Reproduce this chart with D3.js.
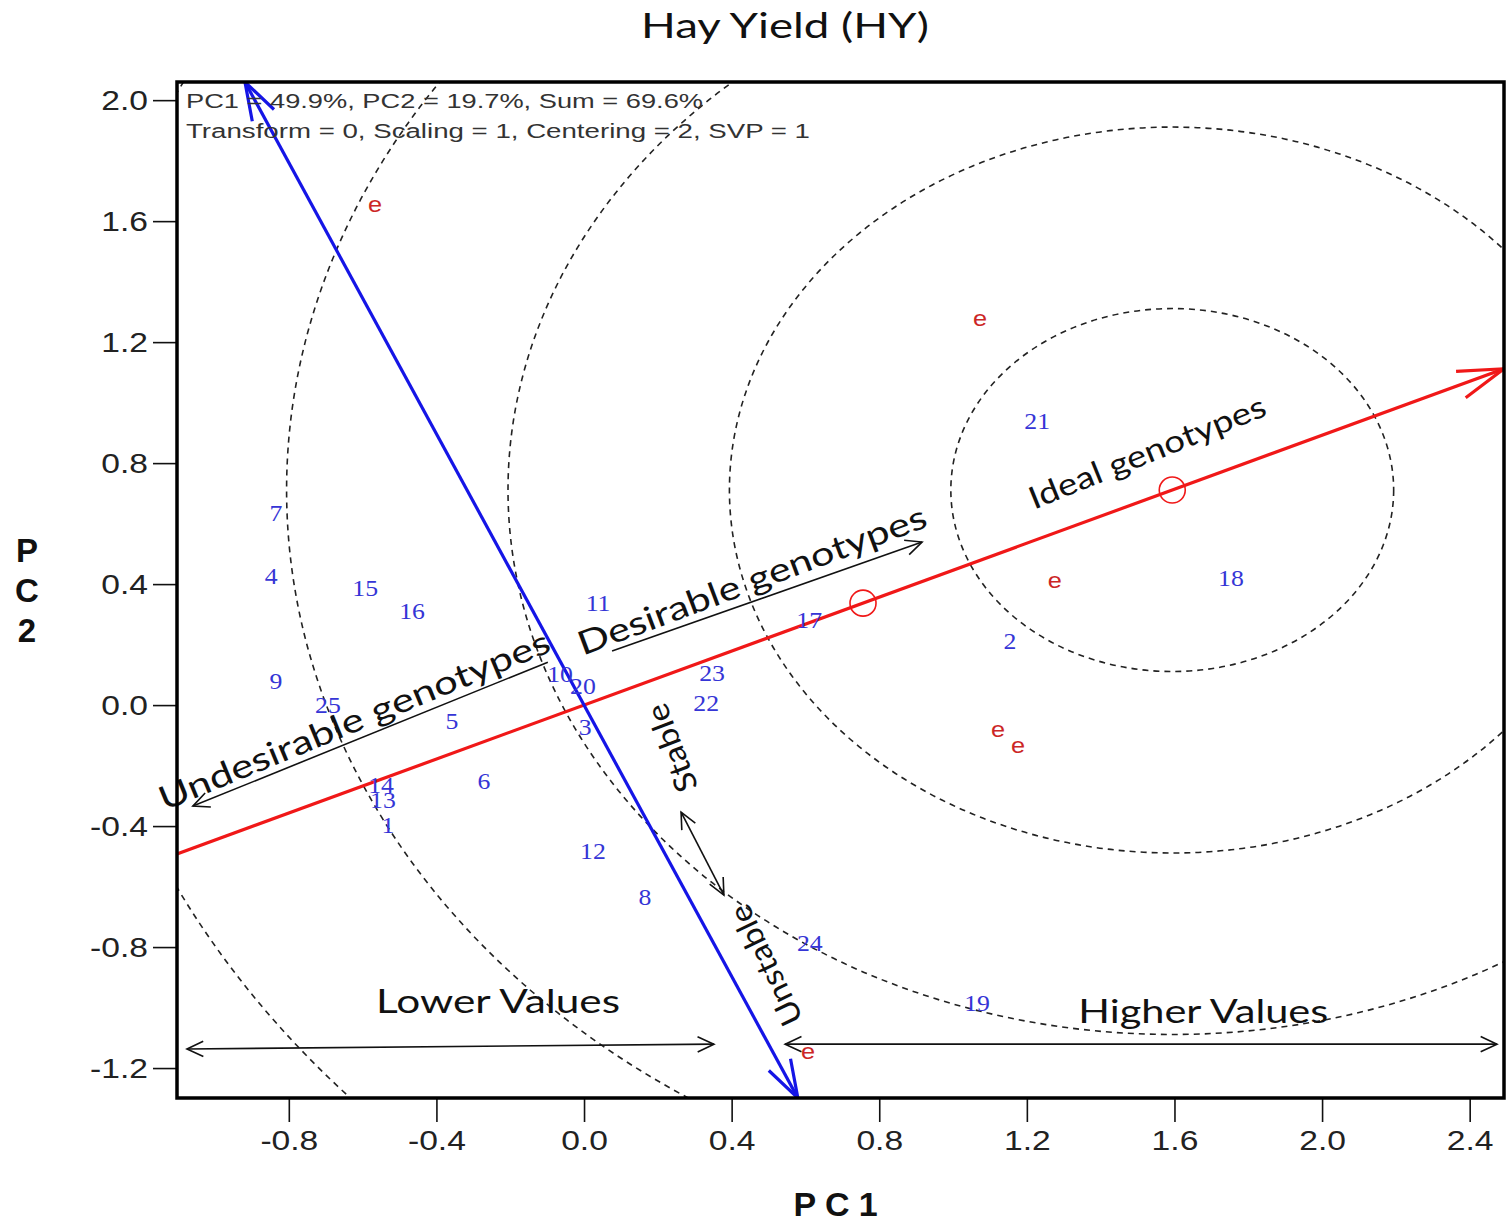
<!DOCTYPE html>
<html><head><meta charset="utf-8">
<script src="https://cdn.jsdelivr.net/npm/d3@7"></script>
<style>body{margin:0;background:#fff}</style>
</head><body>
<svg id="c" width="1506" height="1222" xmlns="http://www.w3.org/2000/svg"></svg>
<script>
// ---------- data ----------
const genotypes = ["1","2","3","4","5","6","7","8","9","10","11","12","13","14","15","16","17","18","19","20","21","22","23","24","25"];
const genoPC1 = [-0.531, 1.154, 0.003, -0.848, -0.358, -0.271, -0.835, 0.165, -0.835, -0.065, 0.038, 0.024, -0.545, -0.550, -0.593, -0.466, 0.610, 1.753, 1.065, -0.003, 1.228, 0.331, 0.347, 0.612, -0.694];
const genoPC2 = [-0.397, 0.212, -0.073, 0.426, -0.053, -0.251, 0.635, -0.635, 0.079, 0.102, 0.337, -0.483, -0.314, -0.264, 0.387, 0.311, 0.281, 0.420, -0.985, 0.063, 0.939, 0.007, 0.106, -0.787, 0.000];
const envLabels = ["e","e","e","e","e","e"];
const envPC1 = [-0.566, 1.073, 1.276, 1.122, 1.176, 0.607];
const envPC2 = [1.656, 1.279, 0.413, -0.079, -0.132, -1.144];
const xTicks = [-0.8, -0.4, 0.0, 0.4, 0.8, 1.2, 1.6, 2.0, 2.4];
const yTicks = [-1.2, -0.8, -0.4, 0.0, 0.4, 0.8, 1.2, 1.6, 2.0];
const xDomain = [-1.103, 2.493];
const yDomain = [-1.299, 2.06];
const idealPoint = [1.594, 0.711];
const avgEnvPoint = [0.756, 0.337];
const circleRadii = [0.6, 1.2, 1.8, 2.4, 3.0];
const infoLines = ["PC1 = 49.9%, PC2 = 19.7%, Sum = 69.6%", "Transform = 0, Scaling = 1, Centering = 2, SVP = 1"];

// ---------- layout ----------
const svg = d3.select("#c");
const x = d3.scaleLinear().domain(xDomain).range([177, 1504]);
const y = d3.scaleLinear().domain(yDomain).range([1098, 82]);
const X0 = x.range()[0], X1 = x.range()[1], Y0 = y.range()[1], Y1 = y.range()[0];

function stretch(sel, f) {
  sel.each(function () {
    const w = this.getComputedTextLength();
    this.setAttribute("textLength", w * f);
    this.setAttribute("lengthAdjust", "spacingAndGlyphs");
  });
}
function fitTo(sel, len) {
  sel.attr("textLength", len).attr("lengthAdjust", "spacingAndGlyphs");
}
function barbs(x1, y1, x2, y2, len, angDeg) {
  const a = Math.atan2(y2 - y1, x2 - x1), t = angDeg * Math.PI / 180;
  const p1 = [x2 - len * Math.cos(a - t), y2 - len * Math.sin(a - t)];
  const p2 = [x2 - len * Math.cos(a + t), y2 - len * Math.sin(a + t)];
  return `M${p1[0]},${p1[1]}L${x2},${y2}L${p2[0]},${p2[1]}`;
}

svg.append("defs").append("clipPath").attr("id", "plotclip")
  .append("rect").attr("x", X0).attr("y", Y0).attr("width", X1 - X0).attr("height", Y1 - Y0);

const plot = svg.append("g").attr("clip-path", "url(#plotclip)");

// concentric circles around the ideal genotype
plot.selectAll("ellipse.ring").data(circleRadii).join("ellipse")
  .attr("class", "ring")
  .attr("cx", x(idealPoint[0])).attr("cy", y(idealPoint[1]))
  .attr("rx", r => x(r) - x(0)).attr("ry", r => y(0) - y(r))
  .attr("fill", "none").attr("stroke", "#222").attr("stroke-width", 1.6)
  .attr("stroke-dasharray", "6,5");

// AEC lines
const slope = idealPoint[1] / idealPoint[0];
const redA = [xDomain[0], slope * xDomain[0]], redB = [xDomain[1], slope * xDomain[1]];
const blueA = [-yDomain[1] * slope, yDomain[1]], blueB = [-yDomain[0] * slope, yDomain[0]];

plot.append("line").attr("x1", x(redA[0])).attr("y1", y(redA[1])).attr("x2", x(redB[0])).attr("y2", y(redB[1]))
  .attr("stroke", "#f01818").attr("stroke-width", 3.2);
plot.append("path").attr("d", barbs(x(redA[0]), y(redA[1]), x(redB[0]), y(redB[1]), 48, 17))
  .attr("fill", "none").attr("stroke", "#f01818").attr("stroke-width", 3.2);

plot.append("line").attr("x1", x(blueA[0])).attr("y1", y(blueA[1])).attr("x2", x(blueB[0])).attr("y2", y(blueB[1]))
  .attr("stroke", "#1515e6").attr("stroke-width", 3.2);
plot.append("path").attr("d", barbs(x(blueB[0]), y(blueB[1]), x(blueA[0]), y(blueA[1]), 40, 18))
  .attr("fill", "none").attr("stroke", "#1515e6").attr("stroke-width", 3.2);
plot.append("path").attr("d", barbs(x(blueA[0]), y(blueA[1]), x(blueB[0]), y(blueB[1]), 40, 18))
  .attr("fill", "none").attr("stroke", "#1515e6").attr("stroke-width", 3.2);

// markers
plot.selectAll("circle.mk").data([avgEnvPoint, idealPoint]).join("circle")
  .attr("class", "mk").attr("cx", d => x(d[0])).attr("cy", d => y(d[1])).attr("r", 13)
  .attr("fill", "none").attr("stroke", "#f01818").attr("stroke-width", 1.6);

// genotype labels
const gl = plot.selectAll("text.geno").data(genotypes).join("text")
  .attr("class", "geno")
  .attr("x", (d, i) => x(genoPC1[i])).attr("y", (d, i) => y(genoPC2[i])).attr("dy", "0.35em")
  .attr("text-anchor", "middle").attr("font-family", "Liberation Serif, serif").attr("font-size", 23)
  .attr("fill", "#3535d6").text(d => d);
stretch(gl, 1.12);

// environment labels
const el = plot.selectAll("text.env").data(envLabels).join("text")
  .attr("class", "env")
  .attr("x", (d, i) => x(envPC1[i])).attr("y", (d, i) => y(envPC2[i])).attr("dy", "0.35em")
  .attr("text-anchor", "middle").attr("font-family", "Liberation Sans, Arial, sans-serif").attr("font-size", 22)
  .attr("fill", "#cc2626").text(d => d);
stretch(el, 1.15);

// ---------- annotations ----------
const ann = svg.append("g").attr("font-family", "Lato, 'Open Sans', sans-serif").attr("fill", "#111");
const rotTexts = [
  {t: "Ideal genotypes", p: [1.526, 0.836], a: -22, len: 253, fs: 31},
  {t: "Desirable genotypes", p: [0.455, 0.413], a: -20.5, len: 370, fs: 33},
  {t: "Undesirable genotypes", p: [-0.623, -0.05], a: -22.4, len: 420, fs: 33},
  {t: "Stable", p: [0.238, -0.142], a: -111, len: 92, fs: 31},
  {t: "Unstable", p: [0.493, -0.86], a: -115.5, len: 130, fs: 31},
  {t: "Lower Values", p: [-0.233, -0.982], a: 0, len: 244, fs: 32},
  {t: "Higher Values", p: [1.678, -1.015], a: 0, len: 250, fs: 32}
];
rotTexts.forEach(o => {
  const t = ann.append("text")
    .attr("transform", `translate(${x(o.p[0])},${y(o.p[1])}) rotate(${o.a})`)
    .attr("text-anchor", "middle").attr("dy", "0.35em").attr("font-size", o.fs).text(o.t);
  fitTo(t, o.len);
});

const annArrows = [
  {a: [0.076, 0.179], b: [0.916, 0.539], both: false},
  {a: [-0.098, 0.142], b: [-1.06, -0.334], both: false},
  {a: [0.263, -0.354], b: [0.379, -0.628], both: true},
  {a: [-1.076, -1.137], b: [0.352, -1.121], both: true},
  {a: [0.545, -1.121], b: [2.474, -1.121], both: true}
];
annArrows.forEach(o => {
  const x1 = x(o.a[0]), y1 = y(o.a[1]), x2 = x(o.b[0]), y2 = y(o.b[1]);
  ann.append("line").attr("x1", x1).attr("y1", y1).attr("x2", x2).attr("y2", y2)
    .attr("stroke", "#111").attr("stroke-width", 1.6);
  ann.append("path").attr("d", barbs(x1, y1, x2, y2, 18, 25)).attr("fill", "none").attr("stroke", "#111").attr("stroke-width", 1.6);
  if (o.both) ann.append("path").attr("d", barbs(x2, y2, x1, y1, 18, 25)).attr("fill", "none").attr("stroke", "#111").attr("stroke-width", 1.6);
});

// info text
const info = svg.append("g").attr("font-family", "Liberation Sans, Arial, sans-serif").attr("font-size", 20).attr("fill", "#333");
info.selectAll("text").data(infoLines).join("text")
  .attr("x", X0 + 9).attr("y", (d, i) => Y0 + 26 + i * 30).text(d => d)
  .each(function (d, i) { d3.select(this).attr("textLength", i === 0 ? 517 : 624).attr("lengthAdjust", "spacingAndGlyphs"); });

// ---------- axes ----------
const fmt = d => d.toFixed(1);
const gx = svg.append("g").attr("transform", `translate(0,${Y1})`)
  .call(d3.axisBottom(x).tickValues(xTicks).tickFormat(fmt).tickSize(24).tickPadding(8));
const gy = svg.append("g").attr("transform", `translate(${X0},0)`)
  .call(d3.axisLeft(y).tickValues(yTicks).tickFormat(fmt).tickSize(24).tickPadding(5));
[gx, gy].forEach(g => {
  g.select(".domain").remove();
  g.selectAll(".tick line").attr("stroke", "#111").attr("stroke-width", 1.6);
  g.selectAll(".tick text").attr("font-family", "Liberation Sans, Arial, sans-serif").attr("font-size", 28).attr("fill", "#222");
});
stretch(gx.selectAll(".tick text"), 1.2);
stretch(gy.selectAll(".tick text"), 1.2);

// plot box
svg.append("rect").attr("x", X0).attr("y", Y0).attr("width", X1 - X0).attr("height", Y1 - Y0)
  .attr("fill", "none").attr("stroke", "#000").attr("stroke-width", 3.5);

// titles
const title = svg.append("text").attr("x", 785).attr("y", 38).attr("text-anchor", "middle")
  .attr("font-family", "Lato, 'Open Sans', sans-serif").attr("font-size", 35).attr("fill", "#111").text("Hay Yield (HY)");
fitTo(title, 288);

svg.append("text").attr("x", 840).attr("y", 1216).attr("text-anchor", "middle")
  .attr("font-family", "Liberation Sans, Arial, sans-serif").attr("font-weight", "bold").attr("font-size", 34)
  .attr("letter-spacing", 9).attr("fill", "#111").text("PC1");

const yl = svg.append("text").attr("text-anchor", "middle")
  .attr("font-family", "Liberation Sans, Arial, sans-serif").attr("font-weight", "bold").attr("font-size", 33).attr("fill", "#111");
["P", "C", "2"].forEach((c, i) => yl.append("tspan").attr("x", 27).attr("y", 562 + i * 40).text(c));
</script>
</body></html>
